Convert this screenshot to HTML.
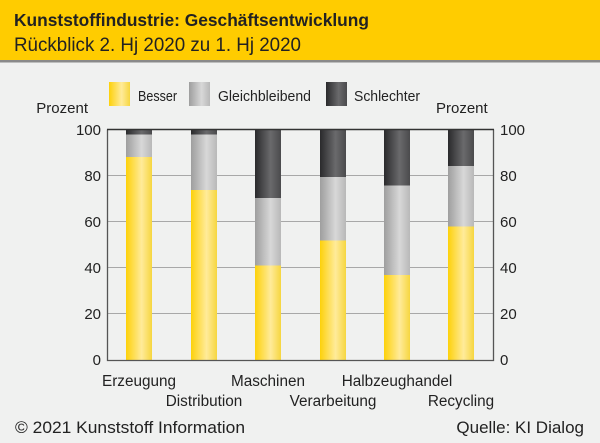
<!DOCTYPE html>
<html><head><meta charset="utf-8"><style>
html,body{margin:0;padding:0;background:#f0f1f0;}
svg{display:block;font-family:"Liberation Sans",sans-serif;}
</style></head><body>
<svg width="600" height="443" viewBox="0 0 600 443" xmlns="http://www.w3.org/2000/svg">
<defs>
<linearGradient id="gy" x1="0" x2="1"><stop offset="0" stop-color="#fdd10a"/><stop offset="0.6" stop-color="#ffeb9a"/><stop offset="1" stop-color="#f6d640"/></linearGradient>
<linearGradient id="gg" x1="0" x2="1"><stop offset="0" stop-color="#9e9e9e"/><stop offset="0.6" stop-color="#d8d8d8"/><stop offset="1" stop-color="#b8b8b8"/></linearGradient>
<linearGradient id="gd" x1="0" x2="1"><stop offset="0" stop-color="#2a2a2c"/><stop offset="0.6" stop-color="#6a6a6c"/><stop offset="1" stop-color="#4a4a4c"/></linearGradient>
</defs>
<rect width="600" height="443" fill="#f0f1f0"/>
<rect width="600" height="61" fill="#ffcc00"/>
<rect y="60" width="600" height="2.5" fill="#8a8a8a"/>
<text x="14" y="26" font-size="17.5" font-weight="bold" fill="#222" textLength="355" lengthAdjust="spacingAndGlyphs">Kunststoffindustrie: Geschäftsentwicklung</text>
<text x="14" y="51" font-size="19" fill="#222" textLength="287" lengthAdjust="spacingAndGlyphs">Rückblick 2. Hj 2020 zu 1. Hj 2020</text>
<!-- legend -->
<rect x="109" y="82" width="21" height="24" fill="url(#gy)"/>
<text x="138" y="101" font-size="15" fill="#222" textLength="39" lengthAdjust="spacingAndGlyphs">Besser</text>
<rect x="189" y="82" width="21" height="24" fill="url(#gg)"/>
<text x="218" y="101" font-size="15" fill="#222" textLength="93" lengthAdjust="spacingAndGlyphs">Gleichbleibend</text>
<rect x="326" y="82" width="21" height="24" fill="url(#gd)"/>
<text x="354" y="101" font-size="15" fill="#222" textLength="66" lengthAdjust="spacingAndGlyphs">Schlechter</text>
<text x="88" y="113" font-size="15" fill="#222" text-anchor="end">Prozent</text>
<text x="436" y="113" font-size="15" fill="#222">Prozent</text>
<!-- grid -->
<g stroke="#a8a8a8" stroke-width="1">
<line x1="107" x2="494" y1="175.5" y2="175.5"/>
<line x1="107" x2="494" y1="221.5" y2="221.5"/>
<line x1="107" x2="494" y1="267.5" y2="267.5"/>
<line x1="107" x2="494" y1="313.5" y2="313.5"/>
</g>
<!-- bars -->
<g>
<rect x="126" y="157" width="26" height="203" fill="url(#gy)"/><rect x="126" y="134.5" width="26" height="22.5" fill="url(#gg)"/><rect x="126" y="129.5" width="26" height="5" fill="url(#gd)"/>
<rect x="191" y="190" width="26" height="170" fill="url(#gy)"/><rect x="191" y="134.5" width="26" height="55.5" fill="url(#gg)"/><rect x="191" y="129.5" width="26" height="5" fill="url(#gd)"/>
<rect x="255" y="265.5" width="26" height="94.5" fill="url(#gy)"/><rect x="255" y="198" width="26" height="67.5" fill="url(#gg)"/><rect x="255" y="129.5" width="26" height="68.5" fill="url(#gd)"/>
<rect x="320" y="240.5" width="26" height="119.5" fill="url(#gy)"/><rect x="320" y="177" width="26" height="63.5" fill="url(#gg)"/><rect x="320" y="129.5" width="26" height="47.5" fill="url(#gd)"/>
<rect x="384" y="275" width="26" height="85" fill="url(#gy)"/><rect x="384" y="185.5" width="26" height="89.5" fill="url(#gg)"/><rect x="384" y="129.5" width="26" height="56" fill="url(#gd)"/>
<rect x="448" y="226.5" width="26" height="133.5" fill="url(#gy)"/><rect x="448" y="166" width="26" height="60.5" fill="url(#gg)"/><rect x="448" y="129.5" width="26" height="36.5" fill="url(#gd)"/>
</g>
<!-- axes -->
<path d="M107.5 129.5 V360.5 H493.5 V129.5" fill="none" stroke="#555" stroke-width="1.3"/>
<line x1="107" x2="494" y1="129.5" y2="129.5" stroke="#333" stroke-width="1.5"/>
<g font-size="15" fill="#222" text-anchor="end">
<text x="101" y="135">100</text><text x="101" y="181">80</text><text x="101" y="227">60</text><text x="101" y="273">40</text><text x="101" y="319">20</text><text x="101" y="365">0</text>
</g>
<g font-size="15" fill="#222">
<text x="500" y="135">100</text><text x="500" y="181">80</text><text x="500" y="227">60</text><text x="500" y="273">40</text><text x="500" y="319">20</text><text x="500" y="365">0</text>
</g>
<g font-size="15.3" fill="#222" text-anchor="middle">
<text x="139" y="386">Erzeugung</text>
<text x="204" y="406">Distribution</text>
<text x="268" y="386">Maschinen</text>
<text x="333" y="406">Verarbeitung</text>
<text x="397" y="386">Halbzeughandel</text>
<text x="461" y="406">Recycling</text>
</g>
<text x="15" y="433" font-size="17" fill="#222" textLength="230" lengthAdjust="spacingAndGlyphs">© 2021 Kunststoff Information</text>
<text x="584" y="433" font-size="17" fill="#222" text-anchor="end">Quelle: KI Dialog</text>
</svg>
</body></html>
